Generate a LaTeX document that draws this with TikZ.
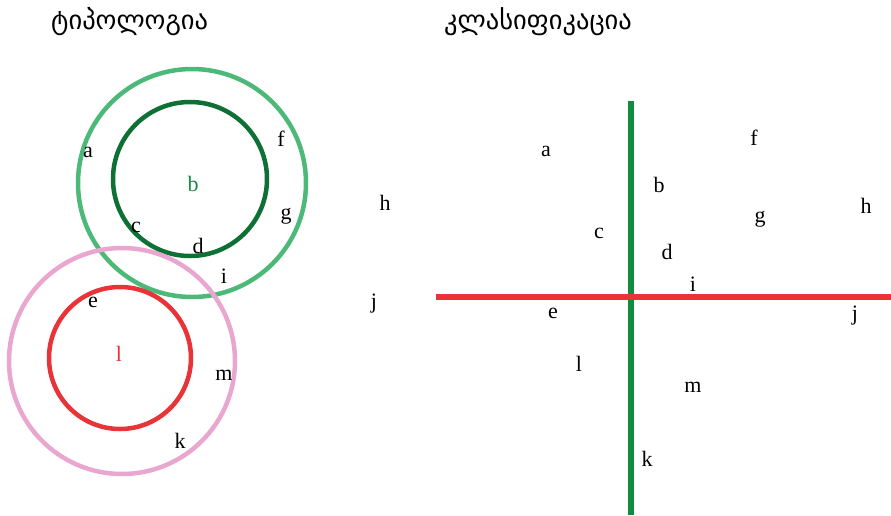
\documentclass[tikz,border=0pt]{standalone}
\usepackage{fontspec}
\setmainfont{Liberation Serif}
\newfontfamily\geofont[Script=Georgian]{DejaVu Sans}
\definecolor{lgreen}{HTML}{4DB978}
\definecolor{dgreen}{HTML}{0E7035}
\definecolor{pinkc}{HTML}{E9A7CF}
\definecolor{redc}{HTML}{E83338}
\definecolor{vgreen}{HTML}{128C3E}
\begin{document}
\begin{tikzpicture}[x=1pt,y=-1pt,
  lbl/.style={font=\fontsize{22}{22}\selectfont, text=black, inner sep=0pt},
  ttl/.style={font=\geofont\fontsize{26.5}{26.5}\selectfont, inner sep=0pt, anchor=west}]
\useasboundingbox (0,0) rectangle (891,515);
\node[ttl] (t1) at (51,22) {ტიპოლოგია};
\node[ttl] (t2) at (444,22) {კლასიფიკაცია};
% left: circles
\draw[lgreen, line width=4.5pt] (192,183) circle (114);
\draw[dgreen, line width=4.5pt] (190,179) circle (77);
\draw[pinkc, line width=4.5pt] (122,361) circle (113);
\draw[redc, line width=4.5pt] (120,358) circle (71);
\node[lbl] (a1) at (88,152) {a};
\node[lbl, text=vgreen] (b1) at (193,184) {b};
\node[lbl] (c1) at (136,227) {c};
\node[lbl] (d1) at (198,246) {d};
\node[lbl] (e1) at (93,302) {e};
\node[lbl] (f1) at (281,139) {f};
\node[lbl] (g1) at (286,216) {g};
\node[lbl] (h1) at (385,203) {h};
\node[lbl] (i1) at (224,276) {i};
\node[lbl] (j1) at (374,304) {j};
\node[lbl] (k1) at (180,441) {k};
\node[lbl, text=redc] (l1) at (119,354) {l};
\node[lbl] (m1) at (224,375) {m};
% right: axes
\coordinate (vt) at (631,101);
\coordinate (vb) at (631,515);
\coordinate (hl) at (436,297);
\coordinate (hr) at (891,297);
\draw[vgreen, line width=6pt] (vt) -- (vb);
\draw[redc, line width=6pt] (hl) -- (hr);
\node[lbl] (a2) at (546,151) {a};
\node[lbl] (b2) at (659,185) {b};
\node[lbl] (c2) at (599,233) {c};
\node[lbl] (d2) at (667,252) {d};
\node[lbl] (e2) at (553,313) {e};
\node[lbl] (f2) at (754,138) {f};
\node[lbl] (g2) at (760,219) {g};
\node[lbl] (h2) at (866,206) {h};
\node[lbl] (i2) at (693,284) {i};
\node[lbl] (j2) at (855,316) {j};
\node[lbl] (k2) at (647,459) {k};
\node[lbl] (l2) at (579,364) {l};
\node[lbl] (m2) at (693,387) {m};
\end{tikzpicture}
\end{document}
